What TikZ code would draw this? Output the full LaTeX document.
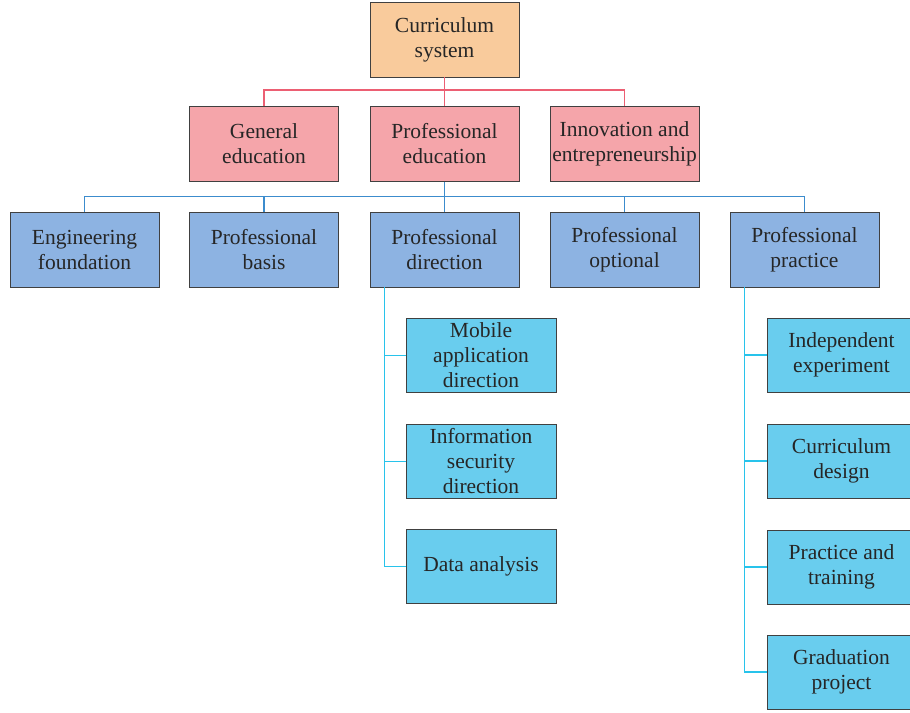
\documentclass[tikz,border=0pt]{standalone}
\usepackage{fontspec}
\setmainfont{Liberation Serif}
\usepackage{tikz}
\usetikzlibrary{positioning,calc}
\usepackage{xcolor}
\definecolor{rootfill}{RGB}{249,203,156}
\definecolor{lvlone}{RGB}{245,165,170}
\definecolor{lvltwo}{RGB}{141,179,226}
\definecolor{lvlthree}{RGB}{105,205,238}
\definecolor{redln}{RGB}{236,95,115}
\definecolor{blueln}{RGB}{60,140,205}
\definecolor{cyanln}{RGB}{40,195,235}

\begin{document}
\begin{tikzpicture}[x=1pt, y=-1pt,
  box/.style={draw=black!75, line width=0.9pt, minimum width=149pt, minimum height=75pt,
    inner sep=0pt, align=center, font=\fontsize{21.5}{25}\selectfont, text=black!85},
  sub/.style={box, fill=lvlthree, minimum width=150pt, minimum height=74pt},
  link/.style={line width=1.2pt},
]
\useasboundingbox (0,0) rectangle (910,712);
% top
\node[box, fill=rootfill] (sys) at (444.5,39.5) {Curriculum\\system};
% second row
\node[box, fill=lvlone] (gen) at (264,144) {General\\education};
\node[box, fill=lvlone] (pro) at (444.5,144) {Professional\\education};
\node[box, fill=lvlone] (inn) at (624.5,144) {Innovation and\\entrepreneurship};
% third row
\node[box, fill=lvltwo] (eng) at (84.5,249.5) {Engineering\\foundation};
\node[box, fill=lvltwo] (bas) at (264,249.5) {Professional\\basis};
\node[box, fill=lvltwo] (dir) at (444.5,249.5) {Professional\\direction};
\node[box, fill=lvltwo] (opt) at (624.5,249.5) {Professional\\optional};
\node[box, fill=lvltwo] (pra) at (804.5,249.5) {Professional\\practice};
% directions
\node[sub] (mob) at (481,355.5) {Mobile\\application\\direction};
\node[sub] (sec) at (481,461.5) {Information\\security\\direction};
\node[sub] (dat) at (481,566.5) {Data analysis};
% practice
\node[sub, minimum width=149pt] (ind) at (841.5,355) {Independent\\experiment};
\node[sub, minimum width=149pt] (cur) at (841.5,461) {Curriculum\\design};
\node[sub, minimum width=149pt] (trn) at (841.5,567) {Practice and\\training};
\node[sub, minimum width=149pt] (grd) at (841.5,672) {Graduation\\project};

% red links
\draw[link, redln] (sys.south) -- ++(0,14);
\draw[link, redln] (gen.north) -- ++(0,-16) -| (inn.north);
\draw[link, redln] (pro.north) -- ++(0,-16);
% blue links
\draw[link, blueln] (pro.south) -- ++(0,16);
\draw[link, blueln] (eng.north) -- ++(0,-15) -| (pra.north);
\draw[link, blueln] (bas.north) -- ++(0,-15);
\draw[link, blueln] (dir.north) -- ++(0,-15);
\draw[link, blueln] (opt.north) -- ++(0,-15);
% cyan links
\coordinate (dtop) at ([xshift=15pt]dir.south west);
\draw[link, cyanln] (dtop) |- (dat.west);
\draw[link, cyanln] (dtop |- mob.west) -- (mob.west);
\draw[link, cyanln] (dtop |- sec.west) -- (sec.west);
\coordinate (ptop) at ([xshift=15pt]pra.south west);
\draw[link, cyanln] (ptop) |- (grd.west);
\draw[link, cyanln] (ptop |- ind.west) -- (ind.west);
\draw[link, cyanln] (ptop |- cur.west) -- (cur.west);
\draw[link, cyanln] (ptop |- trn.west) -- (trn.west);
\end{tikzpicture}
\end{document}
